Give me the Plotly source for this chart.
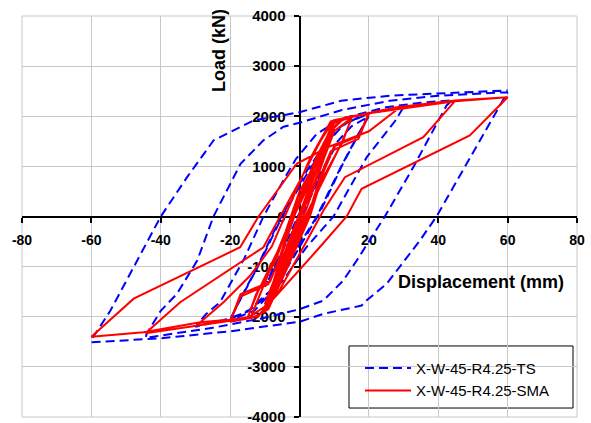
import plotly.graph_objects as go

# X-W-45-R4.25-TS (blue dashed) : displacement (mm) / load (kN)
ts_x = [0, 4, 8, 10, 7, 0.5, -4, -8, -10, -7, -0.5,
        6, 11, 15, 20, 17, 12, 5, -3, -9, -14, -20, -17, -12, -5, 3, 9, 13, 20,
        17.5, 12.5, 6, -2, -8, -13, -20, -17.5, -12.5, -6, 2, 8, 12, 17, 20,
        30, 27.5, 19.4, 14, 9.8, 2, -5, -9.4, -15, -22, -30, -27, -22.9, -16, -10.4, -4, -1, 5, 12, 25, 35, 44,
        42.4, 32.8, 24.6, 16.5, 12.6, 6.9, 0, -10, -25, -44.4,
        -44, -40, -35.3, -29.5, -24.8, -17, -10.4, -4.6, 0, 12, 26, 40, 60,
        59.8, 39.5, 34.7, 28.9, 25.1, 19.3, 17.9, 6.8, 0, -20, -40, -60,
        -59.8, -54.5, -47.8, -43.9, -40, -32.4, -24.8, -19, -13.3, 0, 12, 26, 40, 60]
ts_y = [0, 550, 1100, 1350, 950, 0, -550, -1100, -1400, -1000, 0,
        850, 1500, 1800, 2000, 1650, 1000, 0, -900, -1550, -1850, -2050, -1650, -1000, 0, 950, 1550, 1850, 2050,
        1700, 1050, 100, -850, -1500, -1880, -2070, -1700, -1050, -100, 900, 1500, 1800, 1980, 2060,
        2180, 1900, 1184, 520, 0, -613, -1300, -1543, -1900, -2070, -2200, -1950, -1710, -850, 0, 800, 1150, 1650, 1950, 2180, 2270, 2320,
        2215, 984, 0, -878, -1277, -1677, -1850, -2020, -2220, -2420,
        -2335, -1880, -1540, -880, 0, 1050, 1520, 1790, 1870, 2120, 2310, 2410, 2480,
        2460, 0, -479, -1012, -1345, -1677, -1777, -1944, -2100, -2290, -2430, -2510,
        -2441, -1876, -1012, -479, 0, 785, 1517, 1717, 1916, 2080, 2310, 2410, 2450, 2515]

# X-W-45-R4.25-SMA (red solid)
sma_x = [0, 4, 8, 10, 7, 1, -4, -8, -10, -7, -1,
         3, 7, 10, 7.5, 2, -3, -7, -10, -7.5, -2,
         5, 10, 15, 12, 6, 1, -5, -10, -15, -12, -6, -1,
         4, 9, 15, 12.5, 7, 2, -4, -9, -15, -12.5, -7, -2,
         5, 10, 13, 20, 17, 9, 6, 2, -5, -10, -13, -20, -17, -8.5, -5, -1,
         4, 9, 13, 20, 17, 10, 7, 3, -4, -9, -13, -20, -17, -9, -6, -2,
         5, 10, 16.5, 29, 20, 7, 0, -4, -9, -14, -29.6, -21.9, -14.2, -8, -3, 3, 9, 20, 44.8,
         35.7, 13.1, 6.9, 2, -6, -12, -30, -44.4,
         -34.4, -20, -10.4, -5.6, 0, 6, 9.8, 28, 44.8, 60,
         49.1, 17.9, 13.6, 5, -12.3, -28.6, -45, -60,
         -47.8, -17.1, -11.8, -0.8, 6.4, 9.8, 16.5, 28, 44.8, 60]
sma_y = [0, 750, 1400, 1700, 1150, 100, -750, -1450, -1750, -1200, -100,
         600, 1300, 1750, 1250, 150, -650, -1350, -1800, -1300, -50,
         950, 1700, 1950, 1450, 600, -100, -1050, -1800, -2020, -1500, -650, 100,
         900, 1650, 1970, 1500, 800, 0, -950, -1750, -2030, -1550, -900, 50,
         1050, 1800, 1960, 2050, 1550, 1300, 800, -100, -1200, -1900, -2000, -2090, -1550, -1300, -700, 100,
         950, 1700, 1970, 2060, 1600, 1400, 900, 0, -1100, -1850, -2010, -2100, -1600, -1350, -900, 50,
         1200, 1870, 2016, 2180, 1700, 1350, 500, -300, -1150, -2000, -2170, -1710, -1178, -600, 200, 1150, 1900, 2060, 2300,
         1583, 784, 120, -500, -1500, -2000, -2180, -2330,
         -1710, -1044, -613, 0, 700, 1500, 1916, 2180, 2300, 2380,
         1617, 553, 0, -679, -2010, -2110, -2310, -2400,
         -1640, -613, 0, 1052, 1317, 1916, 2016, 2182, 2315, 2381]

x_ticks = [-80, -60, -40, -20, 0, 20, 40, 60, 80]
y_ticks = [-4000, -3000, -2000, -1000, 0, 1000, 2000, 3000, 4000]

FONT = "Liberation Sans, Arial, sans-serif"
GRID = "#c8c8c8"

fig = go.Figure()
fig.add_trace(go.Scatter(x=ts_x, y=ts_y, mode="lines", name="X-W-45-R4.25-TS",
                         line=dict(color="#0000FF", width=2, dash="9px,5px")))
fig.add_trace(go.Scatter(x=sma_x, y=sma_y, mode="lines", name="X-W-45-R4.25-SMA",
                         line=dict(color="#FF0000", width=2)))

axis_common = dict(
    showgrid=True, gridcolor=GRID, gridwidth=1,
    zeroline=False, showline=True, linecolor="black", linewidth=2,
    ticks="outside", ticklen=5, tickcolor="black", tickwidth=1.5,
    anchor="free", position=0.5, layer="below traces", automargin=False,
    ticklabeloverflow="allow",
)
fig.update_xaxes(range=[-80, 80], tickvals=x_ticks, ticktext=[str(v) for v in x_ticks],
                 side="bottom", ticklabelstandoff=6,
                 tickfont=dict(family=FONT, size=14, color="black", weight="bold"), **axis_common)
fig.update_yaxes(range=[-4000, 4000], tickvals=y_ticks, ticktext=[str(v) for v in y_ticks],
                 side="left", ticklabelstandoff=5,
                 tickfont=dict(family=FONT, size=15, color="black", weight="bold"), **axis_common)

fig.add_annotation(x=-23.4, y=3310, xref="x", yref="y", text="<b>Load (kN)</b>", textangle=-90,
                   showarrow=False, font=dict(family=FONT, size=18, color="black"))
fig.add_annotation(x=52.2, y=-1300, xref="x", yref="y", text="<b>Displacement (mm)</b>",
                   showarrow=False, font=dict(family=FONT, size=18, color="black"))

# outer grid frame (edge grid lines)
fig.add_shape(type="rect", xref="paper", yref="paper", x0=0, x1=1, y0=0, y1=1,
              line=dict(color=GRID, width=1), layer="below")
# legend box
fig.add_shape(type="rect", xref="paper", yref="paper", x0=0.5892, x1=0.9928, y0=0.0224, y1=0.1771,
              line=dict(color="black", width=1), fillcolor="white", layer="below")

fig.update_layout(
    width=591, height=423,
    margin=dict(l=22, r=14, t=16, b=6),
    paper_bgcolor="white", plot_bgcolor="white",
    showlegend=True,
    legend=dict(x=0.609, y=0.163, xanchor="left", yanchor="top", bgcolor="rgba(0,0,0,0)",
                borderwidth=0, font=dict(family=FONT, size=15, color="black"),
                itemwidth=46, tracegroupgap=0),
)

fig.write_html("out.html")
